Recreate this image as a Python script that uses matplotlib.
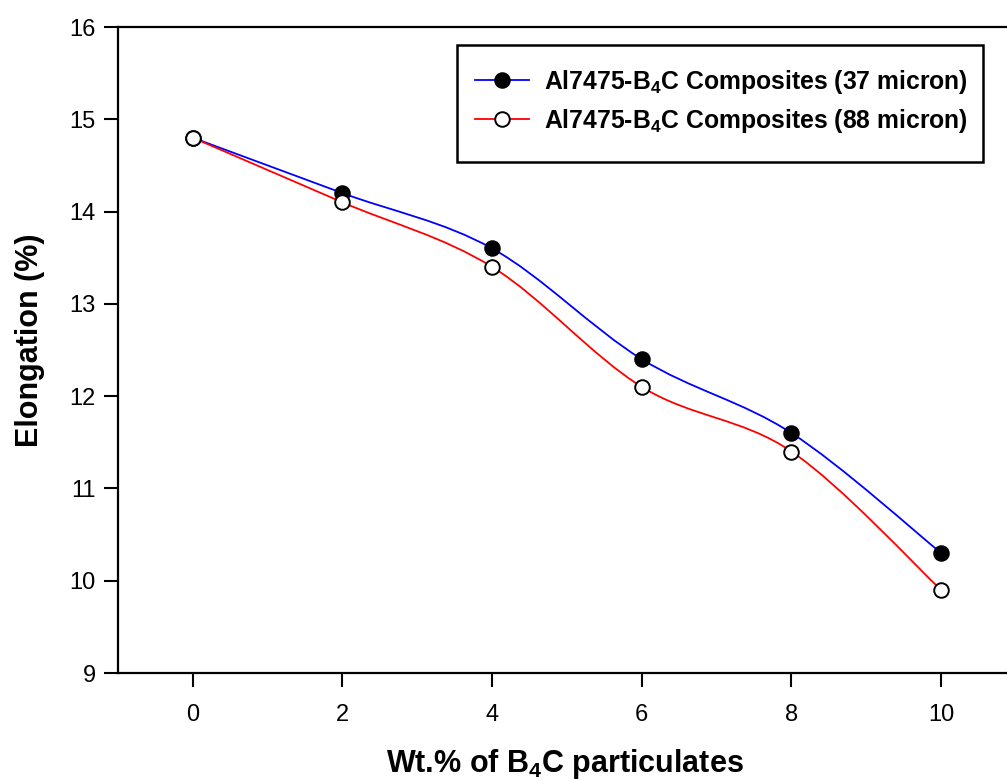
import numpy as np
import matplotlib
matplotlib.use("Agg")
import matplotlib.pyplot as plt
from matplotlib.path import Path
from matplotlib.patches import PathPatch, Rectangle
from matplotlib.lines import Line2D

# === data ===
wt_pct = [0, 2, 4, 6, 8, 10]
elong_37 = [14.8, 14.2, 13.6, 12.4, 11.6, 10.3]
elong_88 = [14.8, 14.1, 13.4, 12.1, 11.4, 9.9]
labels = ["Al7475-B$_\\mathbf{4}$C Composites (37 micron)",
          "Al7475-B$_\\mathbf{4}$C Composites (88 micron)"]
xticks = [0, 2, 4, 6, 8, 10]
yticks = [9, 10, 11, 12, 13, 14, 15, 16]

plt.rcParams["font.family"] = ["Liberation Sans", "DejaVu Sans"]
plt.rcParams["mathtext.fontset"] = "custom"
plt.rcParams["mathtext.rm"] = "Liberation Sans"
plt.rcParams["mathtext.bf"] = "Liberation Sans:bold"


def smooth_path(x, y):
    # Catmull-Rom through the points, drawn as cubic Bezier segments
    x = np.asarray(x, float)
    y = np.asarray(y, float)
    verts = [(x[0], y[0])]
    codes = [Path.MOVETO]
    n = len(x)
    for i in range(n - 1):
        p0 = (x[max(i - 1, 0)], y[max(i - 1, 0)])
        p1 = (x[i], y[i])
        p2 = (x[i + 1], y[i + 1])
        p3 = (x[min(i + 2, n - 1)], y[min(i + 2, n - 1)])
        c1 = (p1[0] + (p2[0] - p0[0]) / 6, p1[1] + (p2[1] - p0[1]) / 6)
        c2 = (p2[0] - (p3[0] - p1[0]) / 6, p2[1] - (p3[1] - p1[1]) / 6)
        verts += [c1, c2, p2]
        codes += [Path.CURVE4] * 3
    return Path(verts, codes)


fig = plt.figure(figsize=(10.07, 7.81), dpi=100)
ax = fig.add_axes([118 / 1007, 1 - 673 / 781, (1016 - 118) / 1007, (673 - 27) / 781])

for yv, col, face in [(elong_37, "blue", "black"), (elong_88, "red", "white")]:
    ax.add_patch(PathPatch(smooth_path(wt_pct, yv), facecolor="none",
                           edgecolor=col, lw=1.3, zorder=2))
    ax.plot(wt_pct, yv, ls="none", marker="o", ms=10.5, mfc=face,
            mec="black", mew=1.4, zorder=3)

ax.set_xlim(-1, 11)
ax.set_ylim(9, 16)
ax.set_xticks(xticks)
ax.set_yticks(yticks)
ax.spines["right"].set_visible(False)
for s in ["left", "bottom", "top"]:
    ax.spines[s].set_linewidth(1.6)
ax.tick_params(direction="out", length=10, width=1.5, labelsize=17, pad=6)
ax.tick_params(axis="x", pad=12)

fig.text(30 / 1007, 1 - 340 / 781, "Elongation (%)", rotation=90, fontsize=22,
         fontweight="bold", ha="center", va="center")
fig.text(565 / 1007, 1 - 764 / 781, "Wt.% of B$_\\mathbf{4}$C particulates", fontsize=22,
         fontweight="bold", ha="center", va="center")

# legend box
fig.patches.append(Rectangle((457 / 1007, 1 - 162 / 781), (983 - 457) / 1007, (162 - 45) / 781,
                             transform=fig.transFigure, fill=False, edgecolor="black", lw=1.8))
handles = [Line2D([], [], color="blue", lw=1.3, marker="o", ms=10.5, mfc="black", mec="black", mew=1.4),
           Line2D([], [], color="red", lw=1.3, marker="o", ms=10.5, mfc="white", mec="black", mew=1.4)]
leg = ax.legend(handles, labels, loc="upper left",
                bbox_to_anchor=(475 / 1007, 1 - 68 / 781), bbox_transform=fig.transFigure,
                frameon=False, prop={"size": 17.8, "weight": "bold"}, handlelength=2.2,
                borderpad=0, labelspacing=0.45, handletextpad=0.6, borderaxespad=0)

fig.savefig("out.png", dpi=100)
